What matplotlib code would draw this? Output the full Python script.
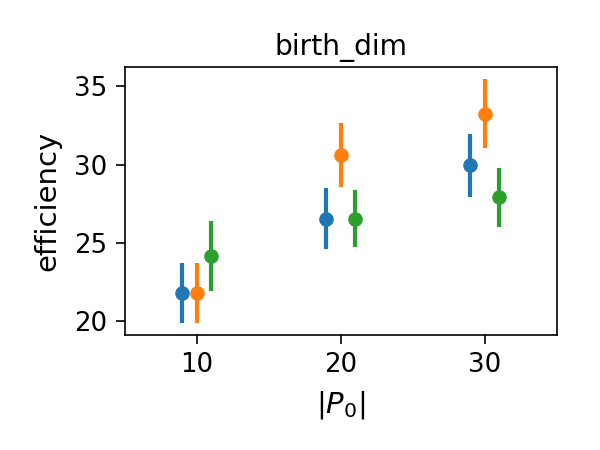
# -*- coding: utf-8 -*-

import matplotlib
matplotlib.use('Agg')
import matplotlib.pyplot as plt

# |P_0| values and per-series offsets
sizes = [10, 20, 30]
offsets = [-1, 0, 1]

# efficiency means and errors, one list per series
blue_mean = [21.8, 26.55, 29.95]
blue_err = [1.9, 1.95, 2.0]
orange_mean = [21.8, 30.6, 33.25]
orange_err = [1.9, 2.05, 2.2]
green_mean = [24.15, 26.55, 27.9]
green_err = [2.25, 1.8, 1.9]

series = [(blue_mean, blue_err, 'C0'),
          (orange_mean, orange_err, 'C1'),
          (green_mean, green_err, 'C2')]

fig, ax = plt.subplots(figsize=(4, 3), dpi=150)

for (mean, err, color), off in zip(series, offsets):
    xs = [s + off for s in sizes]
    ax.errorbar(xs, mean, yerr=err, fmt='o', color=color,
                elinewidth=2, markersize=6)

ax.set_xlim(5, 35)
ax.set_xticks(sizes)
ax.tick_params(labelsize=12.5, length=4.2, pad=4.2)
ax.set_title('birth_dim', fontsize=13.5)
ax.set_xlabel('$|P_0|$', fontsize=14, labelpad=5)
ax.set_ylabel('efficiency', fontsize=14, labelpad=6)

fig.subplots_adjust(left=0.208, right=0.928, top=0.851, bottom=0.256)
fig.savefig('out.png')
